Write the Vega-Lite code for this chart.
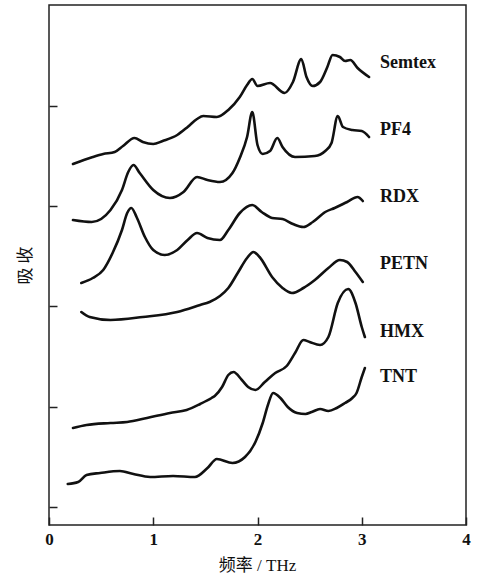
{
  "$schema": "https://vega.github.io/schema/vega-lite/v6.json",
  "autosize": {"type": "none"},
  "padding": {"left": 49, "top": 5, "right": 11, "bottom": 51},
  "width": 417,
  "height": 520,
  "background": "white",
  "config": {
    "view": {"stroke": "#222", "strokeWidth": 1.5},
    "axis": {"grid": false, "domain": false}
  },
  "datasets": {
    "curves": [
      {"s":"Semtex","x":0.23,"y":361},{"s":"Semtex","x":0.42,"y":368},{"s":"Semtex","x":0.52,"y":371},{"s":"Semtex","x":0.63,"y":373},{"s":"Semtex","x":0.71,"y":379},{"s":"Semtex","x":0.82,"y":387},{"s":"Semtex","x":0.9,"y":383},{"s":"Semtex","x":1.0,"y":381},{"s":"Semtex","x":1.09,"y":384},{"s":"Semtex","x":1.23,"y":390},{"s":"Semtex","x":1.33,"y":398},{"s":"Semtex","x":1.42,"y":406},{"s":"Semtex","x":1.48,"y":409},{"s":"Semtex","x":1.61,"y":408},{"s":"Semtex","x":1.72,"y":415},{"s":"Semtex","x":1.83,"y":428},{"s":"Semtex","x":1.9,"y":440},{"s":"Semtex","x":1.95,"y":446},{"s":"Semtex","x":2.0,"y":439},{"s":"Semtex","x":2.12,"y":442},{"s":"Semtex","x":2.26,"y":432},{"s":"Semtex","x":2.34,"y":443},{"s":"Semtex","x":2.42,"y":466},{"s":"Semtex","x":2.47,"y":448},{"s":"Semtex","x":2.53,"y":439},{"s":"Semtex","x":2.6,"y":443},{"s":"Semtex","x":2.67,"y":458},{"s":"Semtex","x":2.72,"y":470},{"s":"Semtex","x":2.79,"y":468},{"s":"Semtex","x":2.84,"y":464},{"s":"Semtex","x":2.89,"y":465},{"s":"Semtex","x":2.96,"y":457},{"s":"Semtex","x":3.07,"y":448},
      {"s":"PF4","x":0.23,"y":305},{"s":"PF4","x":0.41,"y":303},{"s":"PF4","x":0.59,"y":315},{"s":"PF4","x":0.7,"y":335},{"s":"PF4","x":0.76,"y":353},{"s":"PF4","x":0.81,"y":360},{"s":"PF4","x":0.87,"y":352},{"s":"PF4","x":1.0,"y":335},{"s":"PF4","x":1.16,"y":327},{"s":"PF4","x":1.29,"y":333},{"s":"PF4","x":1.42,"y":348},{"s":"PF4","x":1.52,"y":345},{"s":"PF4","x":1.64,"y":343},{"s":"PF4","x":1.76,"y":352},{"s":"PF4","x":1.83,"y":367},{"s":"PF4","x":1.9,"y":388},{"s":"PF4","x":1.95,"y":413},{"s":"PF4","x":2.0,"y":380},{"s":"PF4","x":2.05,"y":371},{"s":"PF4","x":2.12,"y":374},{"s":"PF4","x":2.19,"y":387},{"s":"PF4","x":2.24,"y":378},{"s":"PF4","x":2.36,"y":368},{"s":"PF4","x":2.55,"y":369},{"s":"PF4","x":2.65,"y":374},{"s":"PF4","x":2.71,"y":382},{"s":"PF4","x":2.77,"y":409},{"s":"PF4","x":2.82,"y":398},{"s":"PF4","x":2.91,"y":395},{"s":"PF4","x":3.0,"y":394},{"s":"PF4","x":3.07,"y":388},
      {"s":"RDX","x":0.31,"y":242},{"s":"RDX","x":0.42,"y":247},{"s":"RDX","x":0.52,"y":255},{"s":"RDX","x":0.61,"y":272},{"s":"RDX","x":0.7,"y":295},{"s":"RDX","x":0.75,"y":312},{"s":"RDX","x":0.79,"y":317},{"s":"RDX","x":0.84,"y":308},{"s":"RDX","x":0.92,"y":288},{"s":"RDX","x":1.0,"y":275},{"s":"RDX","x":1.11,"y":270},{"s":"RDX","x":1.23,"y":275},{"s":"RDX","x":1.33,"y":285},{"s":"RDX","x":1.42,"y":292},{"s":"RDX","x":1.52,"y":287},{"s":"RDX","x":1.64,"y":285},{"s":"RDX","x":1.72,"y":295},{"s":"RDX","x":1.83,"y":312},{"s":"RDX","x":1.95,"y":320},{"s":"RDX","x":2.04,"y":313},{"s":"RDX","x":2.14,"y":307},{"s":"RDX","x":2.24,"y":306},{"s":"RDX","x":2.34,"y":301},{"s":"RDX","x":2.44,"y":298},{"s":"RDX","x":2.53,"y":303},{"s":"RDX","x":2.65,"y":313},{"s":"RDX","x":2.74,"y":317},{"s":"RDX","x":2.86,"y":323},{"s":"RDX","x":2.96,"y":328},{"s":"RDX","x":3.01,"y":324},
      {"s":"PETN","x":0.31,"y":213},{"s":"PETN","x":0.39,"y":208},{"s":"PETN","x":0.59,"y":205},{"s":"PETN","x":0.9,"y":208},{"s":"PETN","x":1.23,"y":213},{"s":"PETN","x":1.45,"y":220},{"s":"PETN","x":1.54,"y":223},{"s":"PETN","x":1.64,"y":229},{"s":"PETN","x":1.72,"y":237},{"s":"PETN","x":1.81,"y":252},{"s":"PETN","x":1.9,"y":267},{"s":"PETN","x":1.96,"y":273},{"s":"PETN","x":2.02,"y":268},{"s":"PETN","x":2.14,"y":248},{"s":"PETN","x":2.24,"y":237},{"s":"PETN","x":2.33,"y":232},{"s":"PETN","x":2.44,"y":237},{"s":"PETN","x":2.55,"y":245},{"s":"PETN","x":2.68,"y":257},{"s":"PETN","x":2.79,"y":265},{"s":"PETN","x":2.86,"y":263},{"s":"PETN","x":2.94,"y":253},{"s":"PETN","x":3.01,"y":243},
      {"s":"HMX","x":0.23,"y":97},{"s":"HMX","x":0.36,"y":100},{"s":"HMX","x":0.59,"y":102},{"s":"HMX","x":0.75,"y":103},{"s":"HMX","x":0.94,"y":107},{"s":"HMX","x":1.16,"y":112},{"s":"HMX","x":1.32,"y":115},{"s":"HMX","x":1.45,"y":121},{"s":"HMX","x":1.56,"y":127},{"s":"HMX","x":1.59,"y":129},{"s":"HMX","x":1.66,"y":138},{"s":"HMX","x":1.72,"y":150},{"s":"HMX","x":1.77,"y":153},{"s":"HMX","x":1.85,"y":145},{"s":"HMX","x":1.91,"y":138},{"s":"HMX","x":1.98,"y":135},{"s":"HMX","x":2.07,"y":143},{"s":"HMX","x":2.17,"y":152},{"s":"HMX","x":2.28,"y":159},{"s":"HMX","x":2.36,"y":172},{"s":"HMX","x":2.44,"y":185},{"s":"HMX","x":2.5,"y":183},{"s":"HMX","x":2.6,"y":180},{"s":"HMX","x":2.68,"y":188},{"s":"HMX","x":2.77,"y":222},{"s":"HMX","x":2.87,"y":236},{"s":"HMX","x":2.94,"y":222},{"s":"HMX","x":3.0,"y":198},{"s":"HMX","x":3.03,"y":188},
      {"s":"TNT","x":0.18,"y":41},{"s":"TNT","x":0.28,"y":43},{"s":"TNT","x":0.36,"y":50},{"s":"TNT","x":0.49,"y":52},{"s":"TNT","x":0.68,"y":54},{"s":"TNT","x":0.81,"y":51},{"s":"TNT","x":0.97,"y":48},{"s":"TNT","x":1.19,"y":49},{"s":"TNT","x":1.4,"y":48},{"s":"TNT","x":1.52,"y":57},{"s":"TNT","x":1.61,"y":66},{"s":"TNT","x":1.76,"y":62},{"s":"TNT","x":1.88,"y":68},{"s":"TNT","x":1.98,"y":83},{"s":"TNT","x":2.05,"y":102},{"s":"TNT","x":2.1,"y":120},{"s":"TNT","x":2.15,"y":132},{"s":"TNT","x":2.22,"y":127},{"s":"TNT","x":2.29,"y":118},{"s":"TNT","x":2.38,"y":112},{"s":"TNT","x":2.46,"y":111},{"s":"TNT","x":2.52,"y":113},{"s":"TNT","x":2.6,"y":116},{"s":"TNT","x":2.68,"y":114},{"s":"TNT","x":2.76,"y":117},{"s":"TNT","x":2.84,"y":122},{"s":"TNT","x":2.91,"y":127},{"s":"TNT","x":2.95,"y":132},{"s":"TNT","x":3.0,"y":148},{"s":"TNT","x":3.03,"y":157}
    ],
    "labels": [
      {"s":"Semtex","x":3.175,"y":462},
      {"s":"PF4","x":3.175,"y":395},
      {"s":"RDX","x":3.175,"y":328},
      {"s":"PETN","x":3.175,"y":261},
      {"s":"HMX","x":3.175,"y":193},
      {"s":"TNT","x":3.175,"y":148}
    ]
  },
  "layer": [
    {
      "data": {"name": "curves"},
      "mark": {"type": "line", "interpolate": "monotone", "color": "#111", "strokeWidth": 2.6, "strokeJoin": "round", "strokeCap": "round"},
      "encoding": {
        "x": {
          "field": "x", "type": "quantitative",
          "scale": {"domain": [0, 4], "nice": false, "zero": false},
          "axis": {
            "values": [0, 1, 2, 3, 4], "format": "d",
            "tickSize": -8, "tickColor": "#222", "tickWidth": 1.5,
            "labelPadding": 14, "labelFont": "Liberation Serif", "labelFontSize": 17, "labelColor": "#111", "labelFlush": false,
            "labelFontWeight": "bold",
            "title": "频率 / THz", "titleFont": "Liberation Serif, Noto Sans CJK SC", "titleFontSize": 17, "titleFontWeight": "normal", "titleColor": "#111",
            "titleX": 208, "titleY": 40, "titleBaseline": "middle", "titleAlign": "center"
          }
        },
        "y": {
          "field": "y", "type": "quantitative",
          "scale": {"domain": [0, 520], "nice": false, "zero": false},
          "axis": {
            "values": [18, 118, 219, 319, 419],
            "tickSize": -8, "tickColor": "#222", "tickWidth": 1.5,
            "labels": false,
            "title": "吸 收", "titleFont": "Noto Sans CJK SC", "titleFontSize": 17, "titleFontWeight": "normal", "titleColor": "#111",
            "titleAngle": -90, "titleX": -24, "titleY": 260, "titleBaseline": "middle", "titleAlign": "center"
          }
        },
        "detail": {"field": "s", "type": "nominal"}
      }
    },
    {
      "data": {"name": "labels"},
      "mark": {"type": "text", "align": "left", "baseline": "middle", "font": "Liberation Serif", "fontSize": 18, "fontWeight": "bold", "color": "#111"},
      "encoding": {
        "x": {"field": "x", "type": "quantitative"},
        "y": {"field": "y", "type": "quantitative"},
        "text": {"field": "s", "type": "nominal"}
      }
    }
  ]
}
